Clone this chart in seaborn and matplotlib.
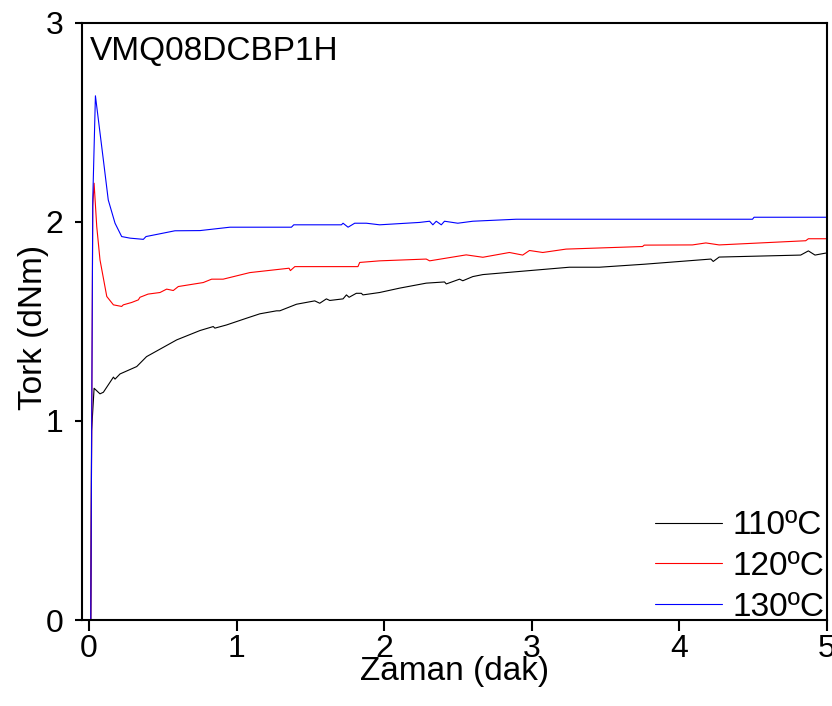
import numpy as np
import pandas as pd
import matplotlib
matplotlib.use('Agg')
import matplotlib.pyplot as plt
import seaborn as sns

# okunan veriler (Zaman: dak, Tork: dNm)
t110 = [0.0115, 0.017, 0.034, 0.074, 0.097, 0.165, 0.176, 0.21, 0.323, 0.39, 0.594, 0.752,
        0.842, 0.853, 0.932, 1.068, 1.158, 1.271, 1.293, 1.406, 1.530, 1.564, 1.609, 1.632,
        1.722, 1.745, 1.763, 1.812, 1.846, 1.857, 1.970, 2.106, 2.286, 2.410, 2.422, 2.512,
        2.534, 2.602, 2.670, 2.986, 3.257, 3.46, 3.764, 4.216, 4.232, 4.272, 4.825, 4.877,
        4.922, 4.995]
k110 = [0.0, 0.95, 1.164, 1.136, 1.144, 1.22, 1.21, 1.236, 1.273, 1.323, 1.407, 1.454,
        1.474, 1.466, 1.482, 1.516, 1.538, 1.553, 1.553, 1.586, 1.603, 1.591, 1.613, 1.605,
        1.613, 1.633, 1.621, 1.641, 1.641, 1.633, 1.645, 1.667, 1.692, 1.698, 1.688, 1.712,
        1.704, 1.725, 1.735, 1.755, 1.772, 1.772, 1.787, 1.813, 1.801, 1.823, 1.833, 1.854,
        1.833, 1.843]

t120 = [0.0115, 0.025, 0.034, 0.052, 0.074, 0.120, 0.165, 0.221, 0.232, 0.289, 0.334, 0.345,
        0.40, 0.481, 0.526, 0.571, 0.605, 0.774, 0.831, 0.909, 1.090, 1.356, 1.365, 1.395,
        1.823, 1.835, 1.970, 2.286, 2.309, 2.557, 2.670, 2.850, 2.940, 2.986, 3.076, 3.234,
        3.753, 3.764, 4.091, 4.182, 4.272, 4.859, 4.877, 4.995]
k120 = [0.0, 2.08, 2.194, 1.976, 1.809, 1.625, 1.583, 1.575, 1.583, 1.595, 1.608, 1.621,
        1.637, 1.645, 1.662, 1.655, 1.675, 1.695, 1.712, 1.712, 1.745, 1.767, 1.755, 1.775,
        1.775, 1.796, 1.804, 1.813, 1.804, 1.834, 1.822, 1.846, 1.833, 1.856, 1.846, 1.863,
        1.876, 1.883, 1.884, 1.894, 1.884, 1.905, 1.915, 1.915]

t130 = [0.0115, 0.025, 0.043, 0.097, 0.13, 0.176, 0.221, 0.278, 0.368, 0.386, 0.481, 0.582,
        0.752, 0.955, 1.372, 1.388, 1.711, 1.722, 1.756, 1.801, 1.880, 1.970, 2.241, 2.309,
        2.331, 2.354, 2.388, 2.410, 2.500, 2.602, 2.896, 4.498, 4.509, 4.995]
k130 = [0.0, 2.11, 2.633, 2.31, 2.11, 1.993, 1.926, 1.918, 1.912, 1.926, 1.940, 1.955,
        1.956, 1.973, 1.973, 1.985, 1.985, 1.993, 1.973, 1.993, 1.993, 1.985, 1.997, 2.003,
        1.985, 2.003, 1.985, 2.003, 1.993, 2.003, 2.013, 2.013, 2.023, 2.023]

etiketler = ['110ºC', '120ºC', '130ºC']
renkler = ['black', 'red', 'blue']

sns.set_style('ticks')
plt.rcParams['font.family'] = ['Liberation Sans', 'DejaVu Sans']

fig = plt.figure(figsize=(8.32, 7.06), dpi=100)
ax = fig.add_axes([0.0982, 0.1218, 0.8952, 0.846])

for t, k, lab, c in zip([t110, t120, t130], [k110, k120, k130], etiketler, renkler):
    sns.lineplot(x=t, y=k, ax=ax, color=c, lw=0.8, label=lab, sort=False, estimator=None)

ax.set_xlim(-0.05, 5.0)
ax.set_ylim(0, 3)
ax.set_xticks([0, 1, 2, 3, 4, 5])
ax.set_yticks([0, 1, 2, 3])
for s in ax.spines.values():
    s.set_visible(True)
    s.set_linewidth(1.5)
    s.set_color('black')
ax.tick_params(axis='x', direction='out', length=8, width=1.5, pad=2, labelsize=23, colors='black')
ax.tick_params(axis='y', direction='out', length=5, width=1.5, pad=8, labelsize=23, colors='black')

ax.set_xlabel('Zaman (dak)', fontsize=24, color='black')
ax.set_ylabel('Tork (dNm)', fontsize=24, color='black')
ax.xaxis.set_label_coords(0.5, -0.06)
ax.yaxis.set_label_coords(-0.044, 0.49)

ax.text(0.011, 0.978, 'VMQ08DCBP1H', transform=ax.transAxes, ha='left', va='top',
        fontsize=24, color='black')

ax.legend(loc='lower right', bbox_to_anchor=(0.999, -0.007), frameon=False, fontsize=24,
          handlelength=2.0, handletextpad=0.3, labelspacing=0.29, borderaxespad=0.0,
          borderpad=0.05, labelcolor='black')

fig.savefig('out.png', dpi=100)
